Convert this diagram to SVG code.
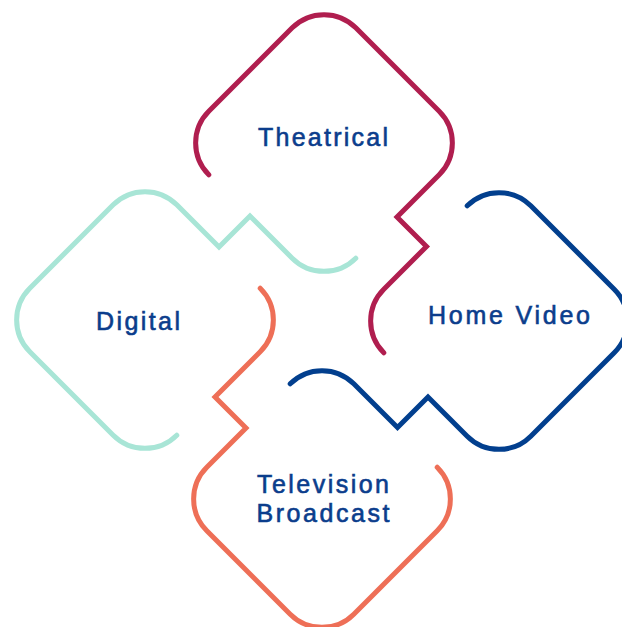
<svg xmlns="http://www.w3.org/2000/svg" width="622" height="627" viewBox="0 0 622 627">
<style>
.c{fill:none;stroke-width:5;stroke-linecap:round;stroke-linejoin:miter}
.t{font-family:"Liberation Sans","Noto Sans",sans-serif;font-size:25px;fill:#0B3D8C;stroke:#0B3D8C;stroke-width:0.6;text-anchor:middle}
</style>
<rect width="622" height="627" fill="#FFFFFF"/>
<g id="connectors">
<path class="c" stroke="#B01E4F" d="M208.8,174.8 A45,45 0 0 1 208.8,111.2 L292.2,27.8 A45,45 0 0 1 355.8,27.8 L439.2,111.2 A45,45 0 0 1 439.2,174.8 L397,217 L426.5,246.5 L383.8,289.2 A45,45 0 0 0 383.8,352.8"/>
<path class="c" stroke="#A8E5D6" d="M176.8,435.2 A45,45 0 0 1 113.2,435.2 L29.8,351.8 A45,45 0 0 1 29.8,288.2 L113.2,204.8 A45,45 0 0 1 176.8,204.8 L219,247 L250,216 L292.2,258.2 A45,45 0 0 0 355.8,258.2"/>
<path class="c" stroke="#023F8E" d="M467.2,205.8 A45,45 0 0 1 530.8,205.8 L614.2,289.2 A45,45 0 0 1 614.2,352.8 L530.8,436.2 A45,45 0 0 1 467.2,436.2 L428,397 L397.5,427.5 L353.8,383.8 A45,45 0 0 0 290.2,383.8"/>
<path class="c" stroke="#EE6F57" d="M437.2,467.2 A45,45 0 0 1 437.2,530.8 L353.8,614.2 A45,45 0 0 1 290.2,614.2 L206.8,530.8 A45,45 0 0 1 206.8,467.2 L246,428 L215,397 L260.2,351.8 A45,45 0 0 0 260.2,288.2"/>
</g>
<g id="theatrical"><text class="t" x="323" y="146" textLength="130" lengthAdjust="spacing">Theatrical</text></g>
<g id="home-video"><text class="t" x="509" y="324" textLength="162" lengthAdjust="spacing">Home Video</text></g>
<g id="digital"><text class="t" x="138" y="330" textLength="84" lengthAdjust="spacing">Digital</text></g>
<g id="television-broadcast"><text class="t" x="323" y="493" textLength="132" lengthAdjust="spacing">Television</text><text class="t" x="323" y="522" textLength="133" lengthAdjust="spacing">Broadcast</text></g>
</svg>
